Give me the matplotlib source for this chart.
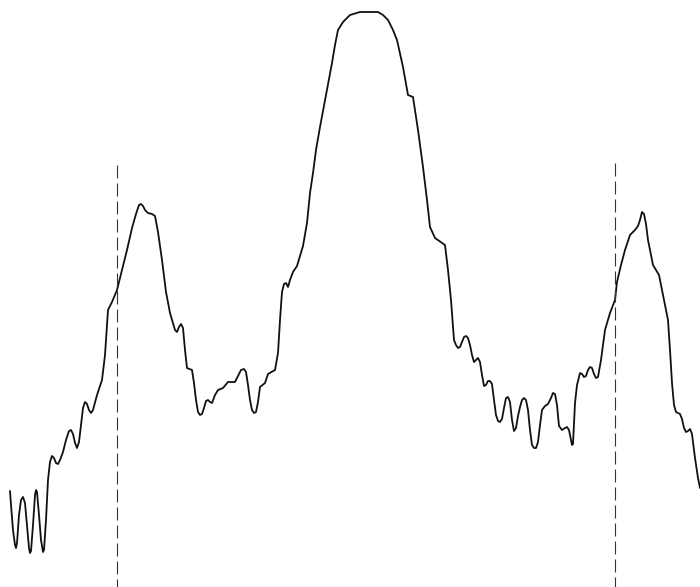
import matplotlib
matplotlib.use("Agg")
import matplotlib.pyplot as plt

# trace as (x, y) pixel pairs (y grows downward)
left_part = [
    (10, 491), (11, 505), (13, 530), (15, 545), (16, 548), (17, 543), (19, 515), (21, 500),
    (23, 497), (25, 503), (27, 525), (29, 548), (30, 553), (31, 551), (33, 525), (35, 495),
    (36, 490), (37, 492), (39, 515), (41, 540), (43, 552), (44, 550), (46, 520), (48, 480),
    (50, 462), (52, 456), (54, 458), (56, 463), (58, 464), (60, 460), (63, 452), (66, 440),
    (69, 431), (71, 430), (73, 434), (75, 443), (77, 448), (79, 442), (81, 425), (83, 408),
    (85, 402), (87, 404), (89, 410), (91, 413), (93, 410), (97, 395), (102, 380), (105, 355),
    (108, 310), (112, 302), (117, 290),
]
first_peak = [
    (122, 270), (127, 250), (132, 228), (136, 214), (139, 205), (141, 204), (143, 206),
    (145, 210), (148, 213), (152, 214), (155, 216), (158, 232), (162, 260), (166, 292),
    (170, 313), (173, 323), (175, 330), (177, 332), (179, 327), (181, 324), (183, 328),
    (185, 350), (187, 368), (192, 370), (194, 383), (196, 400), (198, 412), (200, 415),
    (202, 414), (204, 408), (206, 401), (208, 400), (210, 402), (212, 403), (215, 395),
    (218, 390), (223, 388), (228, 382), (235, 382), (238, 376), (241, 370), (244, 369),
    (246, 372), (248, 385), (250, 400), (252, 410), (254, 413), (256, 412), (258, 402),
    (260, 387), (265, 383), (268, 374), (275, 370), (278, 353), (280, 320), (282, 292),
    (284, 284), (286, 283), (288, 287), (290, 280), (293, 272), (297, 266),
]
main_peak = [
    (303, 246), (307, 223), (310, 193), (313, 173), (316, 150), (320, 127), (326, 95),
    (332, 63), (335, 45), (338, 30), (343, 22), (350, 15), (360, 12), (370, 12), (378, 12),
    (383, 15), (388, 20), (393, 30), (397, 40), (403, 67), (408, 95), (413, 97), (418, 130),
    (423, 167), (427, 200), (430, 227), (435, 238), (445, 245), (448, 270), (451, 300),
    (454, 340),
]
right_valley = [
    (456, 345), (458, 348), (460, 347), (462, 342), (464, 337), (466, 336), (468, 338),
    (470, 345), (472, 355), (474, 362), (476, 360), (478, 358), (480, 362), (482, 375),
    (484, 386), (486, 385), (488, 381), (490, 381), (492, 384), (494, 400), (496, 415),
    (498, 421), (500, 422), (502, 419), (504, 408), (506, 398), (508, 397), (510, 402),
    (512, 420), (514, 431), (516, 428), (518, 416), (520, 407), (522, 400), (524, 398),
    (526, 400), (528, 410), (530, 430), (532, 445), (534, 448), (536, 448), (538, 442),
    (540, 425), (542, 410), (545, 406), (548, 404), (551, 398), (553, 393), (555, 394),
    (557, 405), (559, 426), (562, 430), (565, 428), (567, 427), (569, 430), (571, 440),
    (572, 445), (573, 444), (575, 403), (577, 385), (580, 373), (582, 374), (584, 377),
    (586, 376), (588, 370), (590, 367), (592, 368), (594, 374), (596, 378), (598, 377),
]
last_peak = [
    (601, 360), (605, 330), (610, 313), (615, 300), (617, 282), (621, 265), (625, 250),
    (630, 235), (635, 230), (638, 226), (640, 220), (642, 212), (644, 214), (646, 224),
    (648, 240), (650, 250), (653, 265), (659, 275), (663, 295), (668, 320), (670, 350),
    (672, 383), (674, 405), (676, 412), (678, 413), (680, 414), (682, 419), (684, 428),
    (686, 432), (688, 431), (690, 429), (692, 434), (695, 458), (698, 478), (700, 488),
]

marker_x = [117, 615]
marker_top = [165, 163]

trace = left_part + first_peak + main_peak + right_valley + last_peak
trace_x = [p[0] for p in trace]
trace_y = [p[1] for p in trace]

fig = plt.figure(figsize=(7, 5.87), dpi=100)
ax = fig.add_axes([0, 0, 1, 1])
ax.set_xlim(0, 700)
ax.set_ylim(587, 0)
ax.axis('off')

ax.plot(trace_x, trace_y, color='#111111', lw=1.3,
        solid_joinstyle='round', solid_capstyle='round')

# dashes given in pixels, converted to linewidth units
lw_d = 0.8
px = 0.72 / lw_d
ax.vlines(marker_x, marker_top, 587, colors='#333333', lw=lw_d,
          linestyles=[(0, (13 * px, 5 * px))])

fig.savefig('out.png', dpi=100)
